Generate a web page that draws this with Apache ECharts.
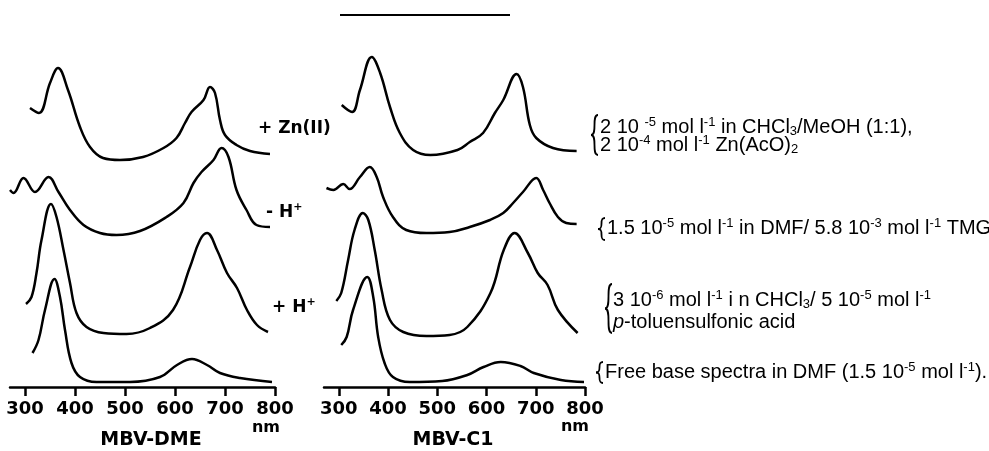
<!DOCTYPE html>
<html>
<head>
<meta charset="utf-8">
<script src="https://cdn.jsdelivr.net/npm/echarts@6/dist/echarts.min.js"></script>
<style>
html, body { margin: 0; padding: 0; background: #fff; }
#chart { width: 989px; height: 451px; }
</style>
</head>
<body>
<div id="chart"></div>
<script>
// wavelength ticks (nm)
var tickValues = [300, 400, 500, 600, 700, 800];

// MBV-DME spectra (stacked, arbitrary absorbance units incl. offset)
var dmeZnNm   = [310, 328, 350, 366, 386, 410, 430, 456, 490, 536, 577, 603, 620, 633, 657, 670, 680, 690, 700, 723, 750, 790];
var dmeZnAbs  = [279, 274, 304, 319, 297, 260, 240, 229, 227, 230, 239, 249, 264, 275, 287, 300, 294, 267, 252, 242, 236, 233];
var dmeDepNm  = [270, 277, 297, 320, 347, 367, 390, 417, 450, 483, 530, 583, 617, 637, 653, 677, 693, 707, 723, 743, 763, 790];
var dmeDepAbs = [197, 194, 209, 195, 210, 195, 177, 162, 154, 152, 156, 170, 184, 204, 215, 227, 239, 230, 197, 177, 162, 160];
var dmeProNm  = [302, 313, 323, 333, 352, 363, 377, 390, 403, 423, 457, 503, 550, 596, 630, 650, 664, 684, 704, 724, 744, 764, 786];
var dmeProAbs = [83, 90, 114, 147, 183, 170, 137, 104, 74, 60, 54, 53, 59, 77, 120, 147, 154, 137, 114, 99, 77, 62, 55];
var dmeFreeNm  = [315, 327, 340, 359, 370, 380, 393, 410, 443, 510, 570, 604, 634, 664, 690, 730, 794];
var dmeFreeAbs = [34, 47, 77, 108, 90, 57, 24, 10, 5, 5, 10, 22, 28, 22, 14, 9, 5];

// MBV-C1 spectra
var c1ZnNm   = [306, 327, 343, 367, 384, 404, 424, 451, 486, 541, 566, 593, 617, 634, 661, 674, 688, 701, 735, 783];
var c1ZnAbs  = [282, 275, 297, 330, 314, 280, 254, 237, 232, 237, 245, 254, 274, 287, 313, 300, 262, 249, 239, 236];
var c1DepNm  = [275, 289, 309, 322, 343, 363, 377, 390, 410, 437, 478, 525, 566, 607, 634, 654, 674, 701, 715, 728, 745, 762, 783];
var c1DepAbs = [199, 197, 203, 198, 210, 220, 210, 190, 170, 157, 154, 155, 160, 167, 174, 184, 195, 209, 197, 184, 170, 164, 163];
var c1ProNm  = [295, 305, 319, 332, 349, 360, 373, 387, 404, 431, 478, 525, 561, 608, 635, 657, 684, 704, 724, 745, 785];
var c1ProAbs = [86, 94, 127, 157, 174, 167, 137, 97, 67, 55, 51, 52, 60, 94, 137, 154, 134, 114, 102, 77, 54];
var c1FreeNm  = [305, 316, 329, 358, 370, 380, 393, 410, 444, 510, 561, 594, 629, 669, 696, 751, 798];
var c1FreeAbs = [42, 50, 77, 110, 90, 50, 24, 10, 5, 6, 12, 20, 25, 21, 14, 7, 5];

var chart = echarts.init(document.getElementById('chart'));

var curve = function (nm, abs, idx) {
	return {
		type: 'line',
		xAxisIndex: idx,
		yAxisIndex: idx,
		data: nm.map(function (x, i) { return [x, abs[i]]; }),
		smooth: 0.4,
		symbol: 'none',
		silent: true,
		lineStyle: { color: '#000', width: 2.5 }
	};
};

var xAxisFor = function (idx) {
	return {
		gridIndex: idx,
		type: 'value',
		min: 270,
		max: 800,
		axisLine: { show: true, lineStyle: { color: '#000', width: 2.5 } },
		axisTick: { show: true, length: 9, customValues: tickValues, lineStyle: { color: '#000', width: 2.5 } },
		axisLabel: { customValues: tickValues, margin: 13, color: '#000', fontFamily: 'DejaVu Sans', fontWeight: 'bold', fontSize: 18 },
		splitLine: { show: false }
	};
};

var yAxisFor = function (idx) {
	return { gridIndex: idx, type: 'value', min: 0, max: 347, show: false };
};

var SANS = 'Liberation Sans';
var noteRich = {
	n: { fontFamily: SANS, fontSize: 20, color: '#000', lineHeight: 22 },
	i: { fontFamily: SANS, fontSize: 20, fontStyle: 'italic', color: '#000', lineHeight: 22 },
	sup: { fontFamily: SANS, fontSize: 13, color: '#000', verticalAlign: 'top' },
	sub: { fontFamily: SANS, fontSize: 13, color: '#000', verticalAlign: 'bottom' }
};
var labRich = {
	b: { fontFamily: 'DejaVu Sans', fontWeight: 'bold', fontSize: 17, color: '#000', lineHeight: 22 },
	s: { fontFamily: 'DejaVu Sans', fontWeight: 'bold', fontSize: 11, color: '#000', verticalAlign: 'top' }
};

var note = function (x, y, text) {
	return { type: 'text', x: x, y: y, silent: true,
		style: { text: text, rich: noteRich, verticalAlign: 'middle', align: 'left' } };
};
var lab = function (x, y, text) {
	return { type: 'text', x: x, y: y, silent: true,
		style: { text: text, rich: labRich, verticalAlign: 'middle', align: 'left' } };
};
var bold = function (x, y, text, size) {
	return { type: 'text', x: x, y: y, silent: true,
		style: { text: text, fontFamily: 'DejaVu Sans', fontWeight: 'bold', fontSize: size, fill: '#000', verticalAlign: 'middle', align: 'center' } };
};
// curly brace from two cubic curves
var brace = function (x, y0, y1) {
	var w = 7, ym = (y0 + y1) / 2;
	var st = { stroke: '#000', lineWidth: 1.8, fill: null };
	return [
		{ type: 'bezierCurve', silent: true, style: st,
			shape: { x1: x + w, y1: y0, cpx1: x, cpy1: y0, cpx2: x + w, cpy2: ym, x2: x, y2: ym } },
		{ type: 'bezierCurve', silent: true, style: st,
			shape: { x1: x, y1: ym, cpx1: x + w, cpy1: ym, cpx2: x, cpy2: y1, x2: x + w, y2: y1 } }
	];
};

chart.setOption({
	backgroundColor: '#fff',
	animation: false,
	grid: [
		{ left: 10, width: 265, top: 40, height: 347 },
		{ left: 324, width: 261, top: 40, height: 347 }
	],
	xAxis: [xAxisFor(0), xAxisFor(1)],
	yAxis: [yAxisFor(0), yAxisFor(1)],
	series: [
		curve(dmeZnNm, dmeZnAbs, 0),
		curve(dmeDepNm, dmeDepAbs, 0),
		curve(dmeProNm, dmeProAbs, 0),
		curve(dmeFreeNm, dmeFreeAbs, 0),
		curve(c1ZnNm, c1ZnAbs, 1),
		curve(c1DepNm, c1DepAbs, 1),
		curve(c1ProNm, c1ProAbs, 1),
		curve(c1FreeNm, c1FreeAbs, 1)
	],
	graphic: [].concat(
		[
			{ type: 'line', silent: true, shape: { x1: 340, y1: 15, x2: 510, y2: 15 }, style: { stroke: '#000', lineWidth: 2 } },
			lab(258, 129, '{b|+ Zn(II)}'),
			lab(266, 213, '{b|- H}{s|+}'),
			lab(272, 308, '{b|+ H}{s|+}'),
			bold(266, 428, 'nm', 16),
			bold(575, 427, 'nm', 16),
			bold(151, 440, 'MBV-DME', 19),
			bold(453, 440, 'MBV-C1', 19),
			note(600, 127, '{n|2 10 }{sup|-5}{n| mol l}{sup|-1}{n| in CHCl}{sub|3}{n|/MeOH (1:1),}'),
			note(600, 145, '{n|2 10}{sup|-4}{n| mol l}{sup|-1}{n| Zn(AcO)}{sub|2}'),
			note(607, 228, '{n|1.5 10}{sup|-5}{n| mol l}{sup|-1}{n| in DMF/ 5.8 10}{sup|-3}{n| mol l}{sup|-1}{n| TMG}'),
			note(613, 300, '{n|3 10}{sup|-6}{n| mol l}{sup|-1}{n| i n CHCl}{sub|3}{n|/ 5 10}{sup|-5}{n| mol l}{sup|-1}'),
			note(613, 322, '{i|p}{n|-toluensulfonic acid}'),
			note(605, 372, '{n|Free base spectra in DMF (1.5 10}{sup|-5}{n| mol l}{sup|-1}{n|).}')
		],
		brace(591, 115, 155),
		brace(598, 218, 240),
		brace(605, 284, 333),
		brace(596, 362, 383)
	)
});
</script>
</body>
</html>
